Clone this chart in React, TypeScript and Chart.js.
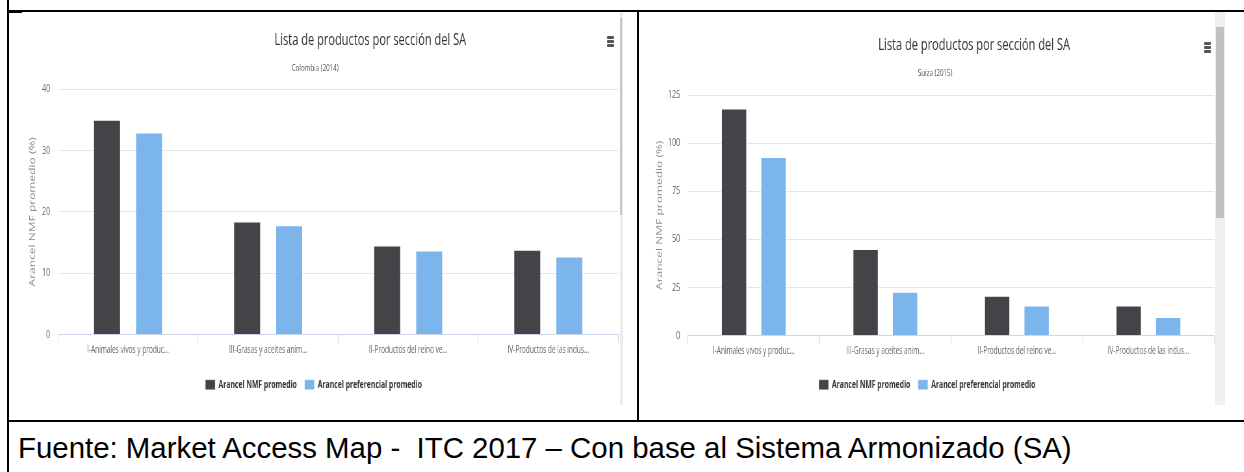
import { useEffect, useRef } from "react";
import { Chart, registerables } from "chart.js";

Chart.register(...registerables);

// Section labels shared by both panels
const categories = [
  "I-Animales vivos y produc...",
  "III-Grasas y aceites anim...",
  "II-Productos del reino ve...",
  "IV-Productos de las indus...",
];
const seriesNames = ["Arancel NMF promedio", "Arancel preferencial promedio"];
const seriesColors = ["#434348", "#7cb5ec"];

// Colombia (2014)
const colombiaNmf = [35.0, 18.4, 14.5, 13.8];
const colombiaPref = [32.9, 17.8, 13.7, 12.7];
const colombiaTicks = [0, 10, 20, 30, 40];

// Suiza (2015)
const suizaNmf = [118.0, 45.0, 20.7, 15.6];
const suizaPref = [92.8, 22.8, 15.6, 9.6];
const suizaTicks = [0, 25, 50, 75, 100, 125];

const chartTitle = "Lista de productos por sección del SA";
const yAxisTitle = "Arancel NMF promedio (%)";
const caption =
  "Fuente: Market Access Map -  ITC 2017 – Con base al Sistema Armonizado (SA)";

// horizontal squeeze applied to each chart canvas
const SQ = 0.65;
const FONT = "'Open Sans', 'DejaVu Sans', sans-serif";

const headingPlugin = {
  id: "heading",
  afterDraw(chart: any, _args: any, opts: any) {
    const { ctx, width } = chart;
    ctx.save();
    ctx.textAlign = "center";
    ctx.textBaseline = "middle";
    ctx.fillStyle = "#333333";
    ctx.font = `17px ${FONT}`;
    ctx.fillText(opts.title, width * opts.titleX, opts.titleY);
    ctx.fillStyle = "#555555";
    ctx.font = `9.5px ${FONT}`;
    ctx.fillText(opts.subtitle, width / 2, opts.subtitleY);
    ctx.restore();
  },
};

type PanelProps = {
  x: number;
  y: number;
  w: number;
  h: number;
  subtitle: string;
  nmf: number[];
  pref: number[];
  ticks: number[];
  padTop: number;
  padBottom: number;
  padRight: number;
  yAxisW: number;
  yTitleOffset: number;
  xScaleH: number;
  titleX: number;
  titleY: number;
  subtitleY: number;
};

function BarPanel(p: PanelProps) {
  const ref = useRef<HTMLCanvasElement>(null);
  const uw = Math.round(p.w / SQ);

  useEffect(() => {
    const canvas = ref.current;
    if (!canvas) return;
    const chart = new Chart(canvas, {
      type: "bar",
      data: {
        labels: categories,
        datasets: [
          {
            label: seriesNames[0],
            data: p.nmf,
            backgroundColor: seriesColors[0],
            borderColor: "rgba(255,255,255,0.35)",
            borderWidth: 1,
            categoryPercentage: 0.6,
            barPercentage: 0.65,
          },
          {
            label: seriesNames[1],
            data: p.pref,
            backgroundColor: seriesColors[1],
            borderColor: "rgba(255,255,255,0.35)",
            borderWidth: 1,
            categoryPercentage: 0.6,
            barPercentage: 0.65,
          },
        ],
      },
      options: {
        animation: false,
        responsive: false,
        maintainAspectRatio: false,
        devicePixelRatio: 1,
        layout: {
          padding: { top: p.padTop, bottom: p.padBottom, left: 0, right: p.padRight / SQ },
        },
        scales: {
          x: {
            grid: {
              offset: true,
              drawOnChartArea: false,
              drawTicks: true,
              tickLength: 8,
              color: "#ccd6eb",
            },
            border: { color: "#ccd6eb", width: 1 },
            ticks: {
              color: "#666666",
              font: { family: FONT, size: 10 },
              padding: 2,
              maxRotation: 0,
              minRotation: 0,
              autoSkip: false,
            },
            afterFit: (s: any) => {
              s.height = p.xScaleH;
            },
          },
          y: {
            min: 0,
            max: p.ticks[p.ticks.length - 1],
            afterBuildTicks: (s: any) => {
              s.ticks = p.ticks.map((v) => ({ value: v }));
            },
            grid: {
              color: (c: any) => (c.tick && c.tick.value === 0 ? "rgba(0,0,0,0)" : "#e6e6e6"),
              drawTicks: false,
            },
            border: { display: false },
            ticks: {
              color: "#666666",
              font: { family: FONT, size: 11 },
              padding: 12,
            },
            title: {
              display: true,
              text: yAxisTitle,
              color: "#8a8a8a",
              font: { family: FONT, size: 12 },
              padding: { top: p.yTitleOffset / SQ - 7.2, bottom: 0 },
            },
            afterFit: (s: any) => {
              s.width = p.yAxisW / SQ;
            },
          },
        },
        plugins: {
          legend: {
            position: "bottom",
            labels: {
              boxWidth: 15,
              boxHeight: 10,
              padding: 12,
              color: "#333333",
              font: { family: FONT, size: 10.5, weight: "bold" },
            },
          },
          tooltip: { enabled: false },
          heading: {
            title: chartTitle,
            subtitle: p.subtitle,
            titleX: p.titleX,
            titleY: p.titleY,
            subtitleY: p.subtitleY,
          },
        } as any,
      },
      plugins: [headingPlugin],
    });
    return () => chart.destroy();
  }, []);

  return (
    <canvas
      ref={ref}
      width={uw}
      height={p.h}
      style={{
        position: "absolute",
        left: p.x,
        top: p.y,
        width: uw,
        height: p.h,
        transform: `scaleX(${SQ})`,
        transformOrigin: "0 0",
      }}
    />
  );
}

function MenuIcon({ x, y }: { x: number; y: number }) {
  const bar = (t: number) => (
    <div
      style={{
        position: "absolute",
        left: 0,
        top: t,
        width: 7,
        height: 2.5,
        background: "#555",
        borderRadius: 1,
      }}
    />
  );
  return (
    <div style={{ position: "absolute", left: x, top: y, width: 7, height: 11 }}>
      {bar(0)}
      {bar(4)}
      {bar(8)}
    </div>
  );
}

const line = (left: number, top: number, width: number, height: number, color = "#000") => (
  <div style={{ position: "absolute", left, top, width, height, background: color }} />
);

export default function App() {
  useEffect(() => {
    document.body.style.margin = "0";
  }, []);

  return (
    <div
      style={{
        position: "relative",
        width: 1244,
        height: 472,
        overflow: "hidden",
        background: "#ffffff",
      }}
    >
      <BarPanel
        x={9}
        y={12}
        w={612}
        h={393}
        subtitle="Colombia (2014)"
        nmf={colombiaNmf}
        pref={colombiaPref}
        ticks={colombiaTicks}
        padTop={77}
        padBottom={5}
        padRight={3}
        yAxisW={49}
        yTitleOffset={24}
        xScaleH={33}
        titleX={0.59}
        titleY={28}
        subtitleY={56}
      />
      <BarPanel
        x={640}
        y={12}
        w={590}
        h={393}
        subtitle="Suiza (2015)"
        nmf={suizaNmf}
        pref={suizaPref}
        ticks={suizaTicks}
        padTop={83}
        padBottom={5}
        padRight={16}
        yAxisW={48}
        yTitleOffset={20}
        xScaleH={32}
        titleX={0.566}
        titleY={33}
        subtitleY={61}
      />

      {/* scroll bars of the two embedded views */}
      {line(620, 12, 3, 393, "#ececec")}
      {line(620, 18, 2, 197, "#c6c6c6")}
      {line(1215, 12, 10, 393, "#f0f0f0")}
      {line(1216, 27, 8, 191, "#c1c1c1")}

      <MenuIcon x={607} y={36} />
      <MenuIcon x={1204} y={42} />

      {/* table rules */}
      {line(7, 0, 2, 472)}
      {line(7, 10, 1237, 2)}
      {line(8, 10, 14, 3)}
      {line(637, 10, 2, 411)}
      {line(7, 420, 1237, 2)}

      <div
        style={{
          position: "absolute",
          left: 18,
          top: 433,
          fontFamily: "'Liberation Sans', Arial, sans-serif",
          fontSize: 29.4,
          lineHeight: "29.4px",
          color: "#000",
          whiteSpace: "pre",
        }}
      >
        {caption}
      </div>
    </div>
  );
}
